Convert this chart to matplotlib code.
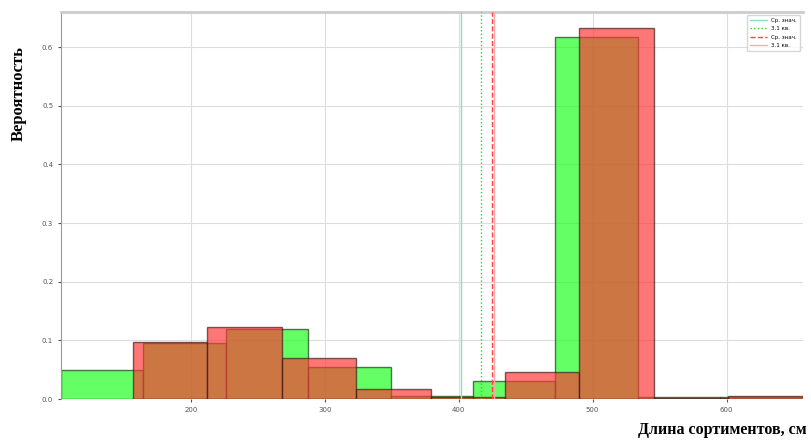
import matplotlib
matplotlib.use("Agg")
import matplotlib.pyplot as plt
import numpy as np

# Bin edges (cm) and probabilities
green_edges = [103.0, 164.6, 226.1, 287.7, 349.2, 410.8, 472.3, 533.9, 595.4, 657.0]
green_probs = [0.050, 0.095, 0.120, 0.055, 0.005, 0.030, 0.617, 0.004, 0.004]
red_edges = [156.7, 212.3, 267.9, 323.4, 379.0, 434.6, 490.2, 545.7, 601.3, 656.9]
red_probs = [0.097, 0.123, 0.070, 0.018, 0.004, 0.046, 0.632, 0.002, 0.005]

vlines_x = [401.5, 416.4, 424.6, 426.5]
vlines_labels = ["Ср. знач.", "3.1 кв.", "Ср. знач.", "3.1 кв."]
vlines_colors = ["#88e0c0", "#33cc33", "#ff4444", "#ffaaaa"]
vlines_styles = ["-", ":", "--", "-"]

xticks = [200, 300, 400, 500, 600]
yticks = [0.0, 0.1, 0.2, 0.3, 0.4, 0.5, 0.6]

fig = plt.figure(figsize=(8.11, 4.4), dpi=100)
ax = fig.add_axes([0.075, 0.093, 0.915, 0.88])

ge = np.array(green_edges)
re = np.array(red_edges)
ax.bar(ge[:-1], green_probs, width=np.diff(ge), align="edge", color="#22ff22",
       alpha=0.7, edgecolor="#1a3a1a", linewidth=1.0, zorder=2)
ax.bar(re[:-1], red_probs, width=np.diff(re), align="edge", color="#ff3535",
       alpha=0.68, edgecolor="#3a1a1a", linewidth=1.0, zorder=3)

for x, lab, c, ls in zip(vlines_x, vlines_labels, vlines_colors, vlines_styles):
    ax.axvline(x, color=c, linestyle=ls, linewidth=1.0, label=lab, zorder=4)

ax.set_xlim(green_edges[0], green_edges[-1])
ax.set_ylim(0, 0.66)
ax.set_xticks(xticks)
ax.set_yticks(yticks)
ax.set_xticklabels([str(t) for t in xticks])
ax.set_yticklabels([f"{t:.1f}" for t in yticks])
ax.tick_params(labelsize=5, length=2, colors="#555555")
ax.grid(True, color="#dddddd", linewidth=0.8, zorder=0)
ax.set_axisbelow(True)
for s in ["right", "bottom"]:
    ax.spines[s].set_visible(False)
ax.spines["top"].set_color("#cccccc")
ax.spines["top"].set_linewidth(2)
ax.spines["left"].set_color("#999999")

ax.set_xlabel("Длина сортиментов, см", fontsize=11.5, fontweight="bold",
              family="Liberation Serif", loc="right")
ax.xaxis.set_label_coords(1.005, -0.058)
ax.set_ylabel("Вероятность", fontsize=12, fontweight="bold",
              family="Liberation Serif")
ax.yaxis.set_label_coords(-0.046, 0.79)

ax.legend(loc="upper right", fontsize=4, frameon=True, handlelength=3,
          borderpad=0.6, labelspacing=0.6)

fig.savefig("out.png", dpi=100)
